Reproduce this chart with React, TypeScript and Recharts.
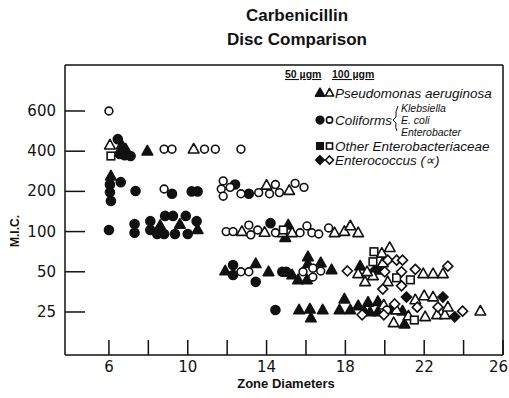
import { ScatterChart, Scatter, XAxis, YAxis, Legend, Customized } from "recharts";

const INK = "#111";

// MIC levels sit on an evenly spaced (ordinal) axis
const micLabels = ["25", "50", "100", "200", "400", "600"];
const micTicks = [0, 1, 2, 3, 4, 5];
const zoneTicks = [6, 8, 10, 12, 14, 16, 18, 20, 22, 24, 26];
const zoneLabels = [6, 10, 14, 18, 22, 26];

// [zone diameter (mm), MIC rank (0 = 25 ... 5 = 600) as plotted, stacked points offset a little]
const pseudo50: [number, number][] = [
  [6.65, 4.15], [6.85, 4.05], [7.95, 4.0],
  [6.1, 3.38],
  [8.6, 2.15], [9.6, 2.18], [10.5, 2.05], [15.1, 2.16], [14.95, 1.85],
  [11.9, 1.02], [13.45, 1.2], [14.1, 1.0], [15.3, 0.92], [15.6, 0.8], [16.1, 1.37], [16.1, 1.2],
  [16.05, 0.8], [16.75, 1.22], [17.3, 1.05], [18.75, 1.14], [19.75, 1.04],
  [15.65, 0.05], [16.2, 0.07], [16.25, -0.15], [16.85, 0.05], [17.7, 0.05], [17.95, 0.32],
  [18.25, 0.05], [18.65, 0.15], [19.15, 0.24], [19.25, 0.0], [19.65, 0.26], [19.65, 0.0],
  [21.0, -0.3], [20.9, 0.02], [18.95, 0.02], [20.3, 0.05],
];
const pseudo100: [number, number][] = [
  [6.05, 4.15], [10.3, 4.05],
  [14.0, 3.15], [15.15, 3.02],
  [12.75, 2.0], [13.9, 1.98], [14.8, 1.97], [15.3, 1.97], [17.45, 1.97], [17.95, 2.0], [18.25, 2.14], [18.65, 1.97],
  [18.65, 0.95], [19.0, 0.75], [19.4, 0.9], [19.9, 1.22], [20.25, 1.6], [19.85, 1.46], [21.95, 0.95],
  [22.45, 0.95], [22.95, 0.95], [19.1, 1.0], [20.15, 0.75],
  [19.95, 0.17], [20.45, -0.27], [21.55, 0.3], [22.0, 0.4], [22.45, 0.37], [22.05, -0.12],
  [22.65, -0.07], [23.05, -0.07], [23.2, 0.12], [24.85, 0.02], [20.6, 0.05], [21.2, -0.1],
];
const coli50: [number, number][] = [
  [6.45, 4.3], [6.55, 3.93], [6.8, 3.9], [7.1, 3.88],
  [6.05, 3.17], [6.05, 2.98], [6.1, 2.76], [6.6, 3.23], [7.35, 3.01], [9.2, 2.94], [10.2, 3.0],
  [10.5, 3.0], [12.4, 3.17], [13.1, 2.94],
  [6.0, 2.04], [7.3, 2.19], [7.3, 1.97], [8.1, 2.26], [8.1, 2.04], [8.45, 1.94], [8.85, 2.39],
  [8.8, 1.94], [9.25, 2.39], [9.35, 1.94], [9.9, 2.39], [10.0, 1.94], [10.45, 2.26], [14.2, 2.21],
  [12.3, 1.17], [12.3, 0.92], [13.45, 0.75], [14.8, 1.0], [15.0, 1.0],
  [14.45, 0.05],
];
const coli100: [number, number][] = [
  [6.0, 5.0],
  [8.8, 4.05], [9.2, 4.05], [10.85, 4.05], [11.4, 4.05], [12.7, 4.05],
  [8.8, 3.06], [11.8, 3.26], [11.7, 3.06], [12.15, 3.1], [11.8, 2.88], [12.7, 2.94], [13.6, 2.97],
  [14.45, 3.17], [14.15, 2.94], [14.65, 2.97], [15.45, 3.2], [15.9, 3.1],
  [11.95, 2.0], [12.3, 2.0], [13.1, 2.16], [13.2, 1.92], [13.55, 2.04], [14.45, 1.97], [15.7, 1.97],
  [16.05, 2.14], [16.3, 1.97], [16.65, 1.94], [17.15, 2.09],
  [12.7, 1.0], [13.1, 1.0], [15.85, 1.0], [16.35, 1.09], [16.35, 0.87], [16.75, 1.02],
  [20.1, 0.05],
];
const other50: [number, number][] = [];
const other100: [number, number][] = [
  [6.1, 3.88], [14.85, 2.04], [19.45, 1.5], [19.4, 1.25], [20.6, 0.85], [21.3, 0.8], [21.5, -0.2],
];
const entero50: [number, number][] = [
  [19.5, 1.04], [21.1, 0.37], [22.95, 0.37], [23.55, -0.12],
];
const entero100: [number, number][] = [
  [18.1, 1.02], [20.15, 1.29], [20.6, 1.29], [20.9, 1.29], [20.85, 1.0], [20.0, 1.0], [19.9, 0.57],
  [20.85, 0.65], [21.55, 1.06], [23.2, 1.14],
  [18.85, -0.07], [19.95, -0.07], [20.5, 0.2], [21.65, 0.12], [22.7, 0.12], [23.95, 0.02],
];

type Kind = "triangle" | "circle" | "square" | "diamond";

const series: { name: string; data: [number, number][]; kind: Kind; filled: boolean }[] = [
  { name: "Pseudomonas 50", data: pseudo50, kind: "triangle", filled: true },
  { name: "Coliforms 50", data: coli50, kind: "circle", filled: true },
  { name: "Other 50", data: other50, kind: "square", filled: true },
  { name: "Enterococcus 50", data: entero50, kind: "diamond", filled: true },
  { name: "Pseudomonas 100", data: pseudo100, kind: "triangle", filled: false },
  { name: "Coliforms 100", data: coli100, kind: "circle", filled: false },
  { name: "Other 100", data: other100, kind: "square", filled: false },
  { name: "Enterococcus 100", data: entero100, kind: "diamond", filled: false },
];

function Marker({ cx, cy, kind, filled, scale = 1 }: { cx: number; cy: number; kind: Kind; filled: boolean; scale?: number }) {
  const fill = filled ? INK : "#fff";
  const sw = 1.6;
  if (kind === "triangle") {
    const w = 5.3 * scale;
    const h = 9.5 * scale;
    return (
      <polygon
        points={`${cx},${cy - h * 0.6} ${cx + w},${cy + h * 0.4} ${cx - w},${cy + h * 0.4}`}
        fill={fill}
        stroke={INK}
        strokeWidth={sw}
        strokeLinejoin="round"
      />
    );
  }
  if (kind === "circle") {
    return <circle cx={cx} cy={cy} r={(filled ? 4.5 : 3.9) * scale} fill={fill} stroke={INK} strokeWidth={sw} />;
  }
  if (kind === "square") {
    const s = 3.8 * scale;
    return <rect x={cx - s} y={cy - s} width={s * 2} height={s * 2} fill={fill} stroke={INK} strokeWidth={sw} />;
  }
  const d = 5 * scale;
  return (
    <polygon
      points={`${cx},${cy - d} ${cx + d},${cy} ${cx},${cy + d} ${cx - d},${cy}`}
      fill={fill}
      stroke={INK}
      strokeWidth={sw}
    />
  );
}

function ZoneTick({ x, y, payload }: any) {
  const v = payload.value;
  const last = v === zoneTicks[zoneTicks.length - 1];
  return (
    <g>
      <line x1={x} x2={x} y1={y} y2={y - 15} stroke={INK} strokeWidth={1.5} />
      {zoneLabels.includes(v) && (
        <text
          x={last ? 508 : x}
          y={y + 17}
          textAnchor={last ? "end" : "middle"}
          fontSize={15}
          fontFamily="DejaVu Sans"
          fill={INK}
        >
          {v}
        </text>
      )}
    </g>
  );
}

function MicTick({ x, y, payload }: any) {
  return (
    <g>
      <line x1={x} x2={x + 20} y1={y} y2={y} stroke={INK} strokeWidth={1.5} />
      <text x={x - 9} y={y + 5} textAnchor="end" fontSize={15} fontFamily="DejaVu Sans" fill={INK}>
        {micLabels[payload.value]}
      </text>
    </g>
  );
}

const legendRows: { kind: Kind; label: string; y: number }[] = [
  { kind: "triangle", label: "Pseudomonas aeruginosa", y: 93 },
  { kind: "circle", label: "Coliforms", y: 120 },
  { kind: "square", label: "Other Enterobacteriaceae", y: 146 },
  { kind: "diamond", label: "Enterococcus (\u221D)", y: 160 },
];

function LegendBox() {
  const ox = 270;
  const oy = 62;
  const txt = { fontFamily: "Liberation Sans", fill: INK } as const;
  return (
    <svg width={239} height={112} style={{ display: "block" }}>
      <g transform={`translate(${-ox},${-oy})`}>
        <text x={285} y={78} fontSize={10.5} fontWeight="bold" textDecoration="underline" {...txt}>50 µgm</text>
        <text x={332} y={78} fontSize={10.5} fontWeight="bold" textDecoration="underline" {...txt}>100 µgm</text>
        {legendRows.map((r) => (
          <g key={r.label}>
            <Marker cx={320} cy={r.y} kind={r.kind} filled scale={0.85} />
            <Marker cx={329.5} cy={r.y} kind={r.kind} filled={false} scale={0.8} />
            <text x={335} y={r.y + 4.5} fontSize={13.5} fontStyle="italic" {...txt}>{r.label}</text>
          </g>
        ))}
        <path d="M398,106 Q395,112 396,117 L393,120 L396,123 Q395,128 397,131" fill="none" stroke={INK} strokeWidth={1} />
        <text x={401} y={112} fontSize={10.5} fontStyle="italic" {...txt}>Klebsiella</text>
        <text x={401} y={124} fontSize={10.5} fontStyle="italic" {...txt}>E. coli</text>
        <text x={401} y={136} fontSize={10.5} fontStyle="italic" {...txt}>Enterobacter</text>
      </g>
    </svg>
  );
}

function Labels() {
  const f = { fontFamily: "Liberation Sans", fontWeight: "bold", fill: INK } as const;
  return (
    <g>
      <text x={297} y={21} textAnchor="middle" fontSize={17} {...f}>Carbenicillin</text>
      <text x={297} y={45} textAnchor="middle" fontSize={17} {...f}>Disc Comparison</text>
      <text transform="translate(19,231) rotate(-90)" textAnchor="middle" fontSize={12} {...f}>M.I.C.</text>
      <text x={286} y={388} textAnchor="middle" fontSize={13} {...f}>Zone Diameters</text>
    </g>
  );
}

const axisLine = { stroke: INK, strokeWidth: 1.5 };

export default function App() {
  return (
    <div style={{ position: "absolute", left: 0, top: 0, width: 509, height: 398, background: "#fff" }}>
      <ScatterChart width={509} height={398} margin={{ top: 64, right: 5, bottom: 42, left: 64 }}>
        <XAxis
          xAxisId="z"
          type="number"
          dataKey="zone"
          domain={[3.77, 26]}
          allowDataOverflow
          ticks={zoneTicks}
          interval={0}
          height={1}
          tickSize={0}
          tickMargin={0}
          tick={ZoneTick}
          axisLine={axisLine}
        />
        <XAxis
          xAxisId="top"
          orientation="top"
          type="number"
          domain={[3.77, 26]}
          height={1}
          tick={false}
          tickLine={false}
          axisLine={axisLine}
        />
        <YAxis
          yAxisId="m"
          type="number"
          dataKey="rank"
          domain={[-1.07, 6.144]}
          allowDataOverflow
          ticks={micTicks}
          interval={0}
          width={1}
          tickSize={0}
          tickMargin={0}
          tick={MicTick}
          axisLine={axisLine}
        />
        <YAxis
          yAxisId="right"
          orientation="right"
          type="number"
          domain={[-1.07, 6.144]}
          width={1}
          tick={false}
          tickLine={false}
          axisLine={axisLine}
        />
        {series.map((s) => (
          <Scatter
            key={s.name}
            name={s.name}
            xAxisId="z"
            yAxisId="m"
            data={s.data.map(([zone, rank]) => ({ zone, rank }))}
            isAnimationActive={false}
            shape={(p: any) => <Marker cx={p.cx} cy={p.cy} kind={s.kind} filled={s.filled} />}
          />
        ))}
        <Legend
          layout="vertical"
          align="center"
          verticalAlign="middle"
          content={LegendBox}
          wrapperStyle={{ left: 270, top: 62, width: 239, height: 112 }}
        />
        <Customized component={Labels} />
      </ScatterChart>
    </div>
  );
}
